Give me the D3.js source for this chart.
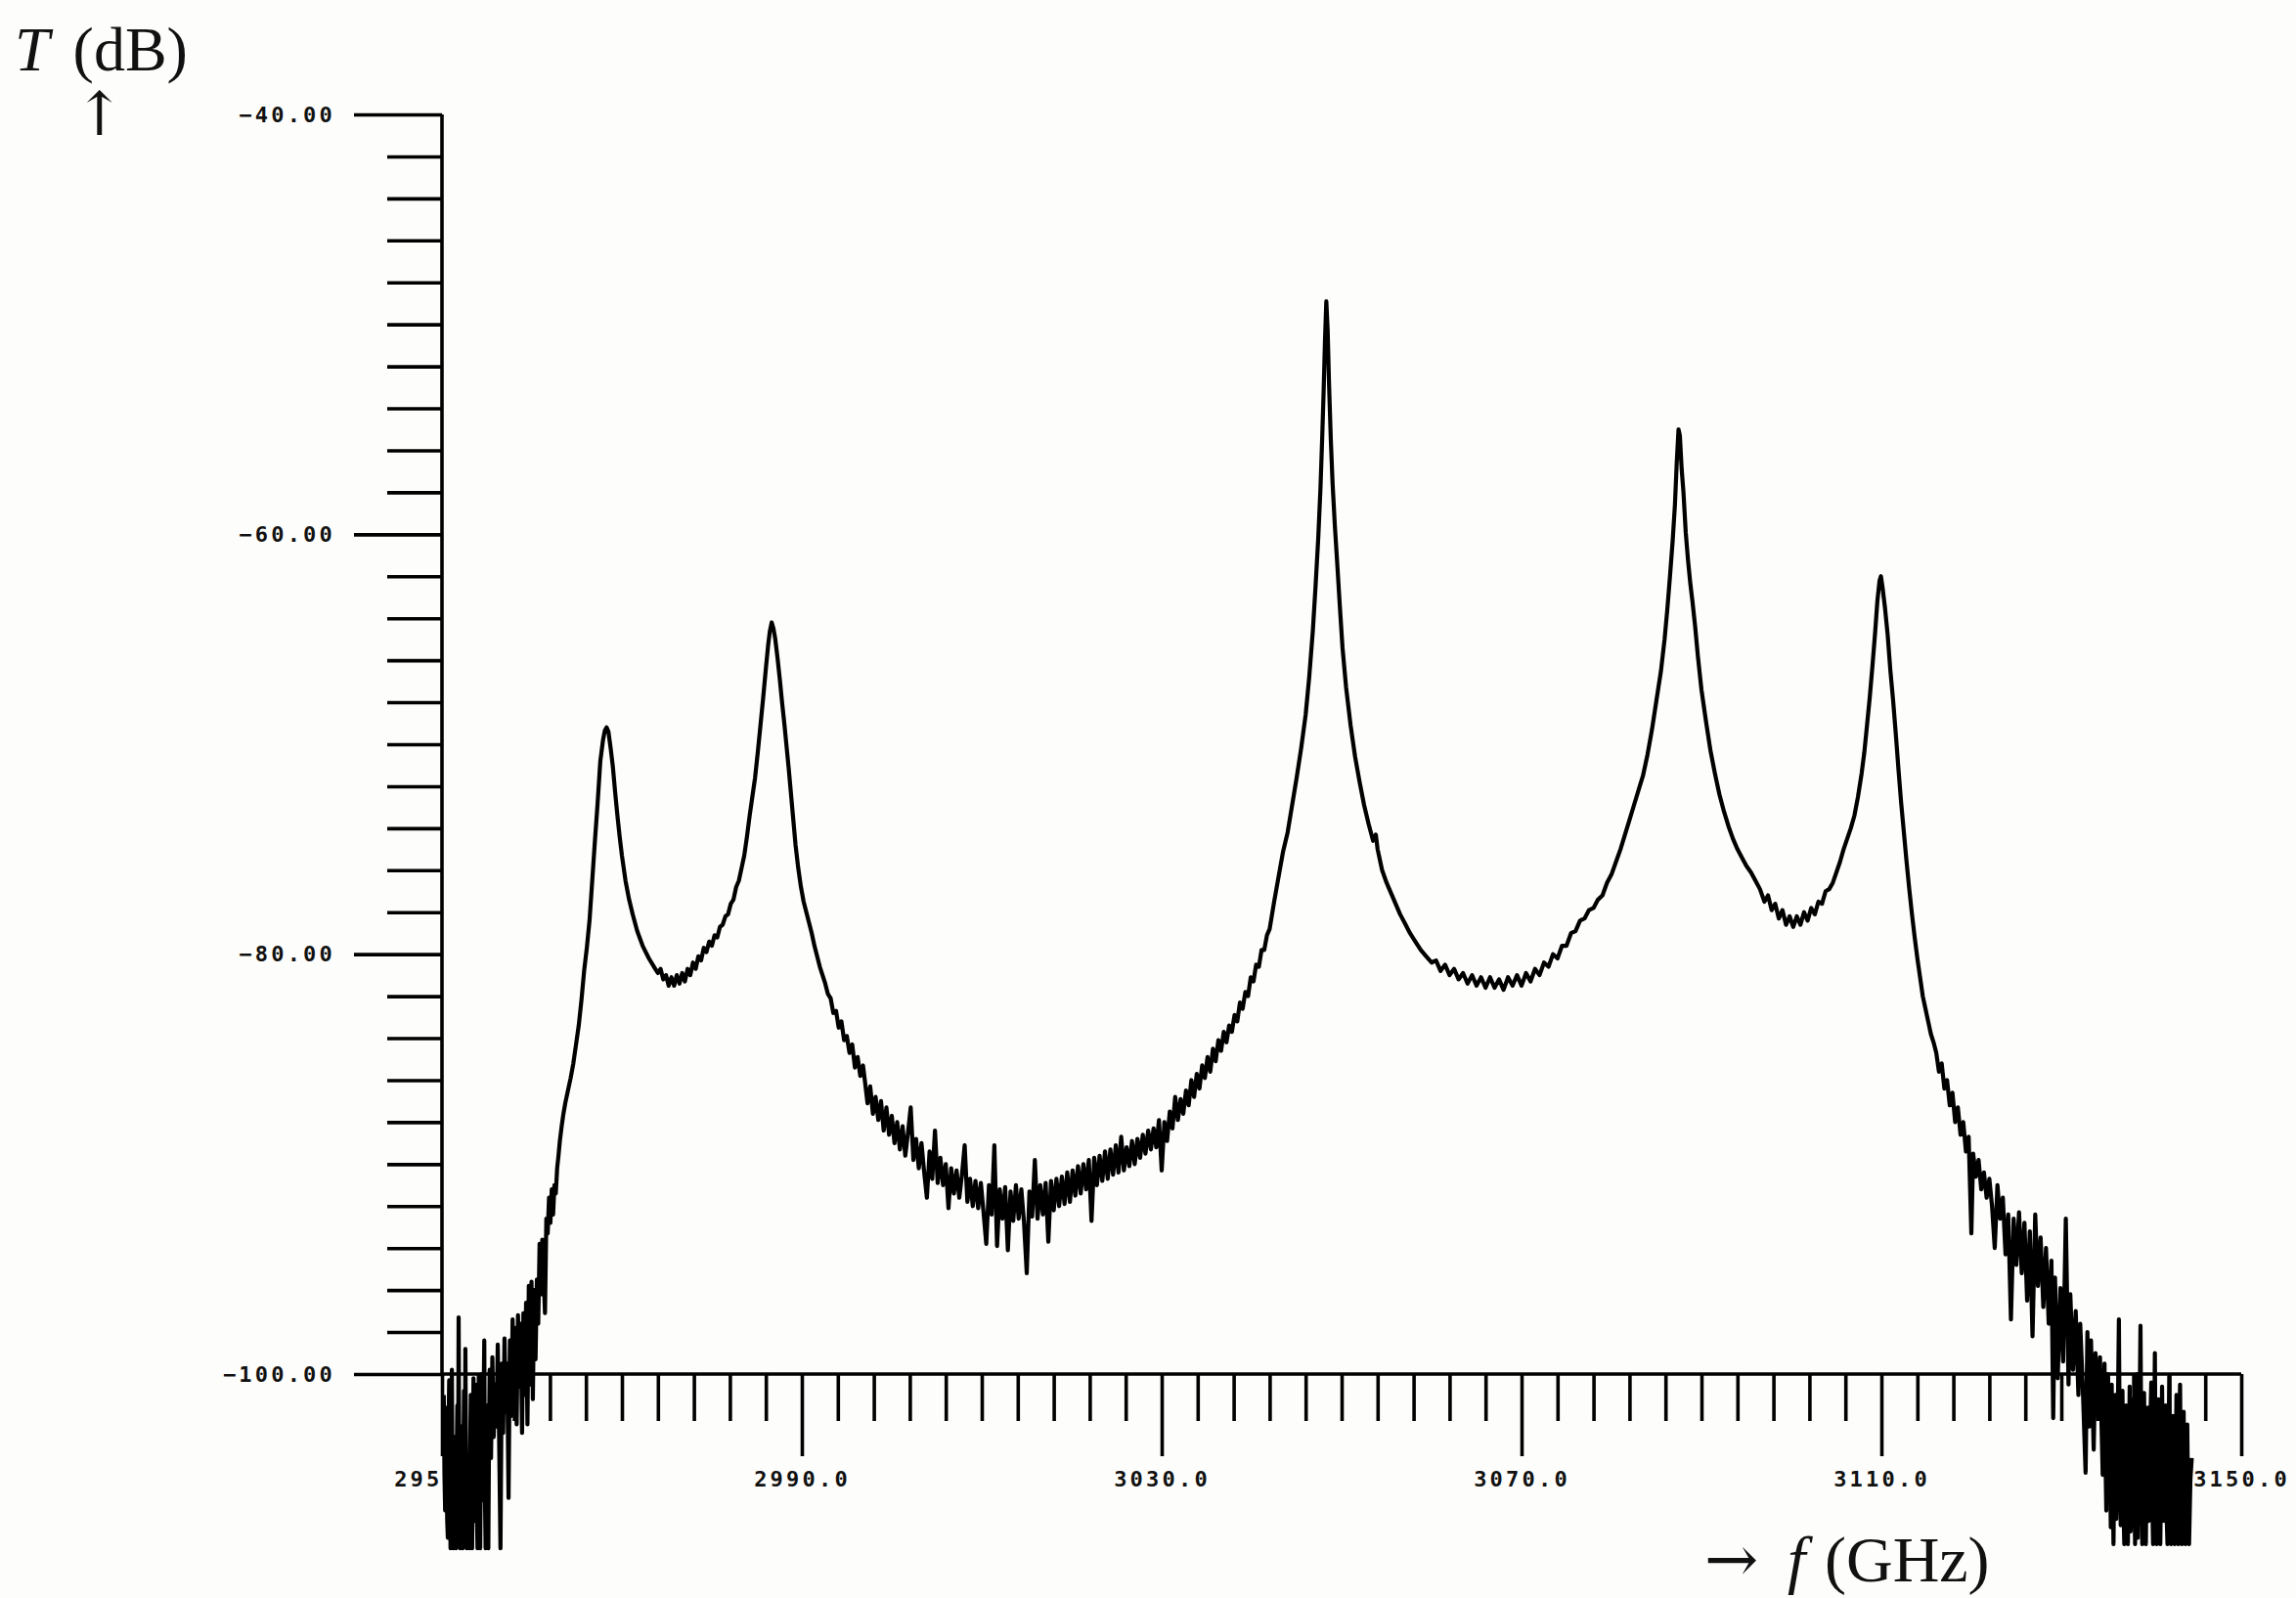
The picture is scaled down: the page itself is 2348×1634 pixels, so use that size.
<!DOCTYPE html>
<html>
<head>
<meta charset="utf-8">
<script src="https://cdn.jsdelivr.net/npm/d3@7"></script>
<style>
  body { margin: 0; background: #fdfdfb; }
  .tick line, .axis-line { stroke: #000; stroke-width: 3.6; }
  .tick text {
    font-family: 'DejaVu Sans Mono', monospace;
    font-weight: bold;
    font-size: 22px;
    letter-spacing: 3.2px;
    fill: #111;
  }
  .title { font-family: 'Liberation Serif', 'DejaVu Serif', serif; font-size: 64px; fill: #111; }
  .arrow { font-family: 'DejaVu Serif', serif; }
  .trace { fill: none; stroke: #000; stroke-width: 4.2; stroke-linejoin: round; }
</style>
</head>
<body>
<div id="chart"></div>
<script>
// transmission T (dB) against frequency f (GHz) as [f, T] pairs

// noisy low edge, clipped near -108 dB
var edgeLow = [
  [2950.2, -101.0], [2950.275, -104.8], [2950.35, -106.5], [2950.425, -101.6], [2950.5, -102.0],
  [2950.575, -106.9], [2950.65, -107.8], [2950.725, -102.8], [2950.8, -100.3], [2950.875, -105.5],
  [2950.95, -108.3], [2951.025, -104.0], [2951.1, -99.8], [2951.175, -106.2], [2951.25, -108.3],
  [2951.325, -105.4], [2951.4, -103.0], [2951.475, -107.5], [2951.55, -108.3], [2951.625, -104.6],
  [2951.7, -101.5], [2951.775, -106.8], [2951.85, -97.3], [2951.925, -105.0], [2952.0, -108.3],
  [2952.075, -103.9], [2952.15, -102.5], [2952.225, -107.6], [2952.3, -108.3], [2952.375, -104.2],
  [2952.45, -100.8], [2952.525, -106.0], [2952.6, -98.8], [2952.675, -104.5], [2952.75, -108.3],
  [2952.825, -106.4], [2952.9, -104.0], [2952.975, -107.3], [2953.05, -108.3], [2953.125, -103.8],
  [2953.2, -101.0], [2953.275, -106.3], [2953.35, -108.3], [2953.425, -104.1], [2953.5, -100.2],
  [2953.575, -105.7], [2953.65, -107.0], [2953.725, -102.6], [2953.8, -100.5], [2953.875, -106.6],
  [2953.95, -108.3], [2954.025, -105.1], [2954.1, -102.0], [2954.175, -107.4], [2954.25, -108.3],
  [2954.325, -103.5], [2954.4, -100.0], [2954.475, -104.9], [2954.55, -106.0], [2954.625, -101.4],
  [2954.7, -98.4], [2954.775, -105.8], [2954.85, -108.3], [2954.925, -104.4], [2955.0, -101.5],
  [2955.075, -106.7], [2955.15, -108.3], [2955.225, -103.2], [2955.3, -99.8],
  [2955.45, -104.0], [2955.6, -99.2], [2955.75, -103.0], [2955.9, -100.5], [2956.05, -102.5],
  [2956.2, -98.6], [2956.35, -103.0], [2956.5, -108.3], [2956.65, -99.5], [2956.8, -102.8],
  [2956.95, -98.3], [2957.1, -101.8], [2957.25, -99.5], [2957.4, -105.9], [2957.55, -98.4],
  [2957.7, -102.0], [2957.85, -97.4], [2958.0, -101.5], [2958.15, -97.8], [2958.3, -102.4],
  [2958.45, -97.2], [2958.6, -100.6], [2958.75, -97.6], [2958.9, -102.8], [2959.05, -97.1],
  [2959.2, -101.0], [2959.35, -96.6], [2959.5, -102.4], [2959.65, -95.8], [2959.8, -100.5],
  [2959.95, -95.6], [2960.1, -101.2], [2960.25, -96.0], [2960.4, -99.3], [2960.55, -95.5],
  [2960.7, -97.6], [2960.85, -93.8], [2961.0, -96.2], [2961.15, -93.6], [2961.3, -95.4],
  [2961.45, -97.1], [2961.6, -92.6], [2961.75, -93.3], [2961.9, -91.6], [2962.05, -92.8],
  [2962.2, -91.2], [2962.35, -92.4], [2962.5, -91.0], [2962.65, -91.4], [2962.8, -90.2],
  [2962.95, -89.6], [2963.1, -88.9], [2963.3, -88.2], [2963.5, -87.6], [2963.7, -87.1],
  [2963.9, -86.7], [2964.1, -86.3], [2964.3, -85.9]
];

// first two resonances
var peaksOneTwo = [
  [2964.6, -85.2], [2964.9, -84.3], [2965.2, -83.4], [2965.5, -82.2], [2965.8, -80.8],
  [2966.1, -79.7], [2966.4, -78.4], [2966.7, -76.5], [2967.0, -74.6], [2967.3, -72.8],
  [2967.6, -70.8], [2967.9, -69.8], [2968.1, -69.35], [2968.3, -69.2], [2968.5, -69.4],
  [2968.75, -70.2], [2969.0, -71.1], [2969.25, -72.3], [2969.5, -73.4], [2969.75, -74.4],
  [2970.0, -75.3], [2970.4, -76.5], [2970.8, -77.4], [2971.2, -78.1], [2971.7, -78.9],
  [2972.3, -79.6], [2973.0, -80.2], [2973.7, -80.7], [2974.0, -80.9], [2974.3, -80.7],
  [2974.6, -81.2], [2974.9, -81.0], [2975.2, -81.5], [2975.5, -81.1], [2975.8, -81.5],
  [2976.1, -81.0], [2976.4, -81.4], [2976.7, -80.9], [2977.0, -81.3], [2977.3, -80.7],
  [2977.6, -81.0], [2977.9, -80.4], [2978.2, -80.7], [2978.5, -80.1], [2978.8, -80.3],
  [2979.1, -79.7], [2979.4, -79.9], [2979.7, -79.4], [2980.0, -79.6], [2980.3, -79.1],
  [2980.6, -79.2], [2980.9, -78.7], [2981.2, -78.6], [2981.5, -78.2], [2981.8, -78.1],
  [2982.1, -77.6], [2982.4, -77.4], [2982.7, -76.8], [2983.0, -76.5], [2983.3, -75.9],
  [2983.6, -75.3], [2983.9, -74.4], [2984.2, -73.4], [2984.5, -72.5], [2984.8, -71.6],
  [2985.1, -70.4], [2985.4, -69.1], [2985.7, -67.8], [2986.0, -66.4], [2986.25, -65.3],
  [2986.45, -64.6], [2986.65, -64.2], [2986.85, -64.5], [2987.05, -65.0], [2987.3, -65.9],
  [2987.55, -66.9], [2987.8, -68.0], [2988.05, -69.0], [2988.3, -70.1], [2988.55, -71.2],
  [2988.8, -72.4], [2989.05, -73.6], [2989.3, -74.8], [2989.6, -75.9], [2989.9, -76.8],
  [2990.2, -77.5], [2990.5, -78.0], [2990.8, -78.5], [2991.1, -79.0], [2991.4, -79.6],
  [2991.7, -80.1], [2992.0, -80.6], [2992.3, -81.0], [2992.6, -81.4], [2992.9, -81.9],
  [2993.2, -82.1], [2993.5, -82.8], [2993.8, -82.7], [2994.1, -83.5], [2994.4, -83.2],
  [2994.7, -84.1], [2995.0, -83.9], [2995.3, -84.7], [2995.6, -84.3], [2995.9, -85.4],
  [2996.2, -84.9], [2996.5, -85.8], [2996.8, -85.3]
];

// wide noisy minimum between the second and third resonance
var centerValley = [
  [2997.0, -86.0], [2997.3, -87.1], [2997.6, -86.3], [2997.9, -87.6], [2998.2, -86.8],
  [2998.5, -87.9], [2998.8, -87.0], [2999.1, -88.4], [2999.4, -87.3], [2999.7, -88.6],
  [3000.0, -87.7], [3000.3, -89.0], [3000.6, -88.0], [3000.9, -89.3], [3001.2, -88.2],
  [3001.5, -89.6], [3001.8, -88.5], [3002.1, -87.3], [3002.4, -89.8], [3002.7, -88.8],
  [3003.0, -90.2], [3003.3, -89.0], [3003.6, -90.4], [3003.9, -91.6], [3004.2, -89.4],
  [3004.5, -90.7], [3004.8, -88.4], [3005.1, -90.9], [3005.4, -89.7], [3005.7, -91.0],
  [3006.0, -90.0], [3006.3, -92.1], [3006.6, -90.2], [3006.9, -91.4], [3007.2, -90.3],
  [3007.5, -91.6], [3007.8, -90.5], [3008.1, -89.1], [3008.4, -91.8], [3008.7, -90.7],
  [3009.0, -92.0], [3009.3, -90.8], [3009.6, -92.1], [3009.9, -90.9], [3010.2, -92.3],
  [3010.5, -93.8], [3010.8, -91.0], [3011.1, -92.4], [3011.4, -89.1], [3011.7, -93.9],
  [3012.0, -91.2], [3012.3, -92.6], [3012.6, -91.1], [3012.9, -94.1], [3013.2, -91.3],
  [3013.5, -92.7], [3013.8, -91.0], [3014.1, -92.6], [3014.4, -91.2], [3014.7, -92.8],
  [3015.0, -95.2], [3015.3, -91.3], [3015.6, -92.5], [3015.9, -89.8], [3016.2, -92.6],
  [3016.5, -91.0], [3016.8, -92.4], [3017.1, -90.9], [3017.4, -93.7], [3017.7, -90.8],
  [3018.0, -92.2], [3018.3, -90.7], [3018.6, -92.0], [3018.9, -90.6], [3019.2, -91.9],
  [3019.5, -90.4], [3019.8, -91.8], [3020.1, -90.3], [3020.4, -91.5], [3020.7, -90.1],
  [3021.0, -91.4], [3021.3, -90.0], [3021.6, -91.2], [3021.9, -89.8], [3022.2, -92.7],
  [3022.5, -89.7], [3022.8, -91.0], [3023.1, -89.6], [3023.4, -90.8], [3023.7, -89.4],
  [3024.0, -90.7], [3024.3, -89.3], [3024.6, -90.5], [3024.9, -89.1], [3025.2, -90.4],
  [3025.5, -88.7], [3025.8, -90.3], [3026.1, -89.2], [3026.4, -90.1], [3026.7, -88.9],
  [3027.0, -90.0], [3027.3, -88.8], [3027.6, -89.7], [3027.9, -88.6], [3028.2, -89.5],
  [3028.5, -88.4], [3028.8, -89.3], [3029.1, -88.3], [3029.4, -89.2], [3029.7, -87.9],
  [3030.0, -90.3], [3030.3, -88.0], [3030.6, -88.9], [3030.9, -87.5], [3031.2, -88.3],
  [3031.5, -86.8], [3031.8, -87.9], [3032.1, -86.9], [3032.4, -87.6], [3032.7, -86.5],
  [3033.0, -87.2], [3033.3, -86.0], [3033.6, -86.8], [3033.9, -85.7], [3034.2, -86.4],
  [3034.5, -85.3], [3034.8, -85.9], [3035.1, -84.9], [3035.4, -85.6], [3035.7, -84.5],
  [3036.0, -85.1], [3036.3, -84.1], [3036.6, -84.6], [3036.9, -83.7], [3037.2, -84.2],
  [3037.5, -83.4], [3037.8, -83.7], [3038.1, -82.9], [3038.4, -83.2], [3038.7, -82.3],
  [3039.0, -82.6], [3039.3, -81.8], [3039.6, -82.0], [3039.9, -81.1], [3040.2, -81.3],
  [3040.5, -80.5], [3040.8, -80.6], [3041.1, -79.8], [3041.4, -79.8], [3041.7, -79.1],
  [3042.0, -78.8]
];

// strongest resonance and the valley after it
var peakThree = [
  [3042.5, -77.5], [3043.0, -76.3], [3043.5, -75.1], [3044.0, -74.2], [3044.5, -72.9],
  [3045.0, -71.6], [3045.5, -70.2], [3046.0, -68.6], [3046.4, -66.8], [3046.8, -64.6],
  [3047.1, -62.5], [3047.4, -60.2], [3047.65, -57.8], [3047.85, -55.3], [3048.0, -53.2],
  [3048.15, -50.8], [3048.3, -48.9], [3048.45, -50.3], [3048.6, -52.8], [3048.8, -55.5],
  [3049.0, -57.6], [3049.25, -59.6], [3049.5, -61.3], [3049.8, -63.4], [3050.1, -65.4],
  [3050.5, -67.3], [3051.0, -69.1], [3051.5, -70.6], [3052.0, -71.8], [3052.5, -72.9],
  [3053.0, -73.8], [3053.5, -74.6], [3053.8, -74.3], [3054.0, -75.0], [3054.5, -76.0],
  [3055.0, -76.6], [3055.5, -77.1], [3056.0, -77.6], [3056.5, -78.1], [3057.0, -78.5],
  [3057.6, -79.0], [3058.2, -79.4], [3058.8, -79.8], [3059.4, -80.1], [3060.0, -80.4],
  [3060.5, -80.3], [3061.0, -80.8], [3061.5, -80.5], [3062.0, -81.0], [3062.5, -80.7],
  [3063.0, -81.2], [3063.5, -80.9], [3064.0, -81.4], [3064.5, -81.0], [3065.0, -81.5],
  [3065.5, -81.1], [3066.0, -81.6], [3066.5, -81.1], [3067.0, -81.6], [3067.5, -81.2],
  [3068.0, -81.7], [3068.5, -81.1], [3069.0, -81.5], [3069.5, -81.0], [3070.0, -81.5],
  [3070.5, -80.9], [3071.0, -81.3], [3071.5, -80.7], [3072.0, -81.0], [3072.5, -80.4],
  [3073.0, -80.6], [3073.5, -80.0], [3074.0, -80.2], [3074.5, -79.6], [3075.0, -79.6],
  [3075.5, -79.0], [3076.0, -78.9], [3076.5, -78.4], [3077.0, -78.3]
];

// fourth and fifth resonance
var peaksFourFive = [
  [3077.5, -77.9], [3078.0, -77.8], [3078.5, -77.4], [3079.0, -77.2], [3079.5, -76.6],
  [3080.0, -76.2], [3080.5, -75.6], [3081.0, -75.0], [3081.5, -74.3], [3082.0, -73.6],
  [3082.5, -72.9], [3083.0, -72.2], [3083.5, -71.5], [3084.0, -70.5], [3084.5, -69.3],
  [3085.0, -67.9], [3085.5, -66.5], [3085.9, -65.0], [3086.2, -63.6], [3086.5, -62.0],
  [3086.8, -60.3], [3087.05, -58.6], [3087.25, -56.6], [3087.45, -55.0], [3087.6, -55.3],
  [3087.8, -56.9], [3088.0, -58.0], [3088.25, -59.9], [3088.5, -61.2], [3088.75, -62.3],
  [3089.0, -63.2], [3089.3, -64.4], [3089.6, -65.8], [3090.0, -67.4], [3090.5, -68.9],
  [3091.0, -70.3], [3091.5, -71.4], [3092.0, -72.4], [3092.5, -73.2], [3093.0, -73.9],
  [3093.5, -74.5], [3094.0, -75.0], [3094.5, -75.4], [3095.0, -75.8], [3095.5, -76.1],
  [3096.0, -76.5], [3096.5, -76.9], [3097.0, -77.5], [3097.4, -77.2], [3097.8, -77.9],
  [3098.2, -77.6], [3098.6, -78.3], [3099.0, -77.9], [3099.4, -78.6], [3099.8, -78.2],
  [3100.2, -78.7], [3100.6, -78.2], [3101.0, -78.6], [3101.4, -78.0], [3101.8, -78.4],
  [3102.2, -77.8], [3102.6, -78.1], [3103.0, -77.5], [3103.4, -77.6], [3103.8, -77.0],
  [3104.2, -76.9], [3104.6, -76.6], [3105.0, -76.1], [3105.4, -75.6], [3105.8, -75.0],
  [3106.2, -74.5], [3106.6, -74.0], [3107.0, -73.4], [3107.4, -72.5], [3107.8, -71.4],
  [3108.1, -70.4], [3108.4, -69.1], [3108.7, -67.8], [3109.0, -66.3], [3109.3, -64.7],
  [3109.55, -63.2], [3109.8, -62.2], [3109.95, -62.0], [3110.15, -62.6], [3110.4, -63.5],
  [3110.7, -64.8], [3111.0, -66.5], [3111.3, -67.9], [3111.6, -69.5], [3111.9, -71.2],
  [3112.2, -72.8], [3112.5, -74.2], [3112.8, -75.6], [3113.1, -76.9], [3113.4, -78.1],
  [3113.7, -79.2], [3114.0, -80.2], [3114.3, -81.1], [3114.6, -82.0], [3114.9, -82.6],
  [3115.2, -83.2], [3115.5, -83.8], [3115.8, -84.2]
];

// noisy high edge, clipped near -108 dB
var edgeHigh = [
  [3116.1, -84.7], [3116.4, -85.6], [3116.7, -85.2], [3117.0, -86.4], [3117.3, -86.0],
  [3117.6, -87.2], [3117.9, -86.6], [3118.2, -88.0], [3118.5, -87.3], [3118.8, -88.6],
  [3119.1, -88.0], [3119.4, -89.4], [3119.7, -88.7], [3120.0, -93.3], [3120.2, -89.5],
  [3120.5, -90.6], [3120.8, -89.8], [3121.1, -91.2], [3121.4, -90.4], [3121.7, -91.6],
  [3122.0, -90.7], [3122.3, -92.0], [3122.6, -94.0], [3122.9, -91.0], [3123.2, -92.6],
  [3123.5, -91.6], [3123.8, -94.3], [3124.1, -92.4], [3124.4, -97.4], [3124.7, -92.6],
  [3125.0, -94.8], [3125.3, -92.3], [3125.6, -95.2], [3125.9, -92.8], [3126.2, -96.5],
  [3126.5, -93.2], [3126.8, -98.2], [3127.1, -92.4], [3127.4, -95.8], [3127.7, -93.5],
  [3128.0, -96.8], [3128.3, -94.0], [3128.6, -97.6], [3128.9, -94.6], [3129.1, -102.1],
  [3129.3, -95.4], [3129.6, -100.2], [3129.9, -95.9], [3130.2, -99.4], [3130.5, -92.6],
  [3130.8, -100.5], [3131.0, -96.2], [3131.3, -99.8], [3131.6, -97.0], [3131.9, -101.0],
  [3132.1, -97.6], [3132.4, -100.8], [3132.7, -104.7], [3132.9, -98.0], [3133.1, -102.5],
  [3133.3, -98.4], [3133.6, -103.6], [3133.8, -99.0], [3134.1, -102.0], [3134.3, -99.2],
  [3134.6, -104.8], [3134.8, -99.5], [3134.9, -103.8], [3135.0, -106.5], [3135.1, -102.0],
  [3135.2, -100.0], [3135.3, -105.6], [3135.4, -104.0], [3135.5, -107.3], [3135.6, -100.5],
  [3135.7, -104.4], [3135.8, -108.1], [3135.9, -103.5], [3136.0, -101.0], [3136.1, -106.9],
  [3136.2, -105.0], [3136.3, -101.2], [3136.4, -97.4], [3136.5, -103.9], [3136.6, -107.2],
  [3136.7, -104.6], [3136.8, -100.8], [3136.9, -106.1], [3137.0, -108.1], [3137.1, -103.0],
  [3137.2, -101.5], [3137.3, -105.7], [3137.4, -108.1], [3137.5, -104.2], [3137.6, -100.6],
  [3137.7, -107.5], [3137.8, -106.0], [3137.9, -102.7], [3138.0, -101.2], [3138.1, -105.3],
  [3138.2, -108.1], [3138.3, -103.4], [3138.4, -100.0], [3138.5, -107.8], [3138.6, -104.5],
  [3138.7, -101.9], [3138.8, -97.7], [3138.9, -104.0], [3139.0, -108.1], [3139.1, -105.2],
  [3139.2, -100.9], [3139.3, -106.4], [3139.4, -108.1], [3139.5, -103.6], [3139.6, -101.6],
  [3139.7, -107.0], [3139.8, -106.8], [3139.9, -102.2], [3140.0, -100.4], [3140.1, -105.9],
  [3140.2, -108.1], [3140.3, -104.1], [3140.4, -99.0], [3140.5, -106.3], [3140.6, -108.1],
  [3140.7, -103.3], [3140.8, -101.2], [3140.9, -107.4], [3141.0, -108.1], [3141.1, -104.8],
  [3141.2, -100.6], [3141.3, -105.5], [3141.4, -107.0], [3141.5, -102.9], [3141.6, -101.5],
  [3141.7, -106.6], [3141.8, -108.1], [3141.9, -104.3], [3142.0, -100.1], [3142.1, -107.1],
  [3142.2, -108.1], [3142.3, -103.7], [3142.4, -102.0], [3142.5, -106.2], [3142.6, -108.1],
  [3142.7, -104.9], [3142.8, -101.0], [3142.9, -107.6], [3143.0, -108.1], [3143.1, -103.1],
  [3143.2, -100.5], [3143.3, -105.8], [3143.4, -108.1], [3143.5, -104.5], [3143.6, -101.8],
  [3143.7, -107.2], [3143.8, -108.1], [3143.9, -103.9], [3144.0, -102.4], [3144.1, -106.5],
  [3144.2, -108.1], [3144.35, -105.0], [3144.5, -104.0]
];

// axis ticks
var yMajorTicks = [-100, -80, -60, -40];
var yMinorTicks = d3.range(-100, -39, 2).filter(function(v) { return yMajorTicks.indexOf(v) < 0; });
var xMajorTicks = [2950, 2990, 3030, 3070, 3110, 3150];
var xMinorTicks = d3.range(2950, 3151, 4).filter(function(v) { return xMajorTicks.indexOf(v) < 0; });

var margin = { top: 117, right: 56, bottom: 229, left: 452 };
var width = 2348 - margin.left - margin.right;
var height = 1634 - margin.top - margin.bottom;

var root = d3.select('#chart')
  .append('svg')
  .attr('width', 2348)
  .attr('height', 1634);

root.append('rect')
  .attr('width', 2348)
  .attr('height', 1634)
  .attr('fill', '#fdfdfb');

var svg = root.append('g')
  .attr('transform', 'translate(' + margin.left + ',' + margin.top + ')');

var x = d3.scaleLinear().domain([2950, 3150]).range([0, width]);
var y = d3.scaleLinear().domain([-100, -40]).range([height, 0]);

// y axis: short minor ticks, long labelled major ticks
svg.append('g')
  .call(d3.axisLeft(y).tickValues(yMinorTicks).tickSize(56).tickSizeOuter(0).tickFormat(''))
  .call(function(g) { g.select('.domain').remove(); });

svg.append('g')
  .call(d3.axisLeft(y).tickValues(yMajorTicks).tickSize(90).tickSizeOuter(0)
    .tickPadding(19).tickFormat(d3.format('.2f')))
  .call(function(g) { g.select('.domain').remove(); });

svg.append('line')
  .attr('class', 'axis-line')
  .attr('x1', 0).attr('x2', 0)
  .attr('y1', y(-40)).attr('y2', y(-100));

// x axis
svg.append('g')
  .attr('transform', 'translate(0,' + height + ')')
  .call(d3.axisBottom(x).tickValues(xMinorTicks).tickSize(48).tickSizeOuter(0).tickFormat(''))
  .call(function(g) { g.select('.domain').remove(); });

svg.append('g')
  .attr('transform', 'translate(0,' + height + ')')
  .call(d3.axisBottom(x).tickValues(xMajorTicks).tickSize(84).tickSizeOuter(0)
    .tickPadding(15).tickFormat(d3.format('.1f')))
  .call(function(g) { g.select('.domain').remove(); });

svg.append('line')
  .attr('class', 'axis-line')
  .attr('x1', x(2950)).attr('x2', x(3150))
  .attr('y1', height).attr('y2', height);

// the measured trace
var trace = [].concat(edgeLow, peaksOneTwo, centerValley, peakThree, peaksFourFive, edgeHigh);

var line = d3.line()
  .x(function(d) { return x(d[0]); })
  .y(function(d) { return y(d[1]); });

svg.append('path')
  .datum(trace)
  .attr('class', 'trace')
  .attr('d', line);

// axis titles, each one text element with the arrow as a tspan
var yTitle = root.append('text')
  .attr('class', 'title')
  .attr('x', 15)
  .attr('y', 72);
yTitle.append('tspan').attr('font-style', 'italic').text('T');
yTitle.append('tspan').attr('dx', 8).text(' (dB)');
yTitle.append('tspan')
  .attr('class', 'arrow')
  .attr('x', 102)
  .attr('y', 138)
  .attr('text-anchor', 'middle')
  .style('font-size', '62px')
  .text('↑');

var xTitle = root.append('text')
  .attr('class', 'title')
  .attr('y', 1617)
  .style('font-size', '66px');
xTitle.append('tspan')
  .attr('class', 'arrow')
  .attr('x', 1743)
  .text('→');
xTitle.append('tspan').attr('x', 1828).attr('font-style', 'italic').text('f');
xTitle.append('tspan').attr('x', 1866).text('(GHz)');
</script>
</body>
</html>
